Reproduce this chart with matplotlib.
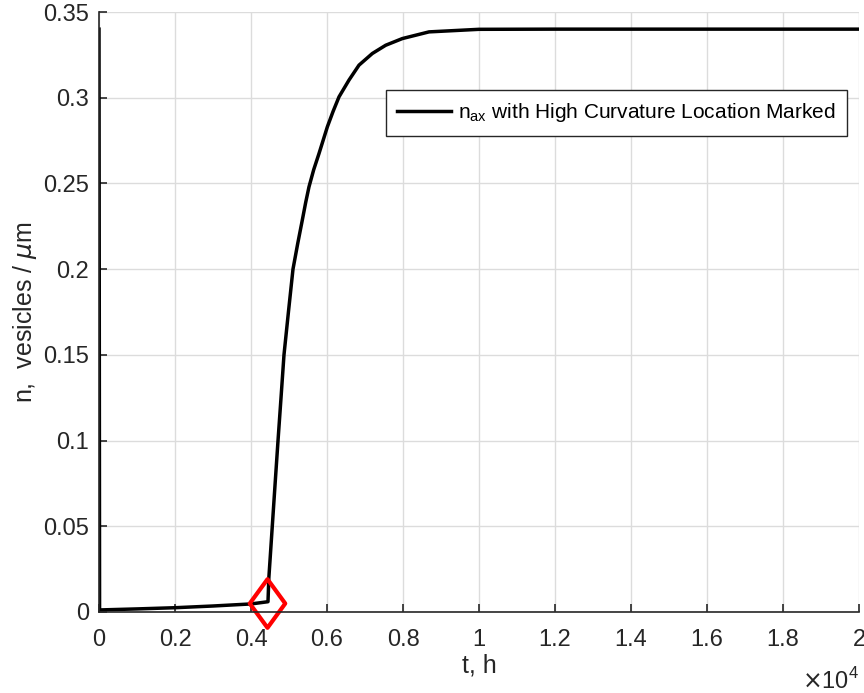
import numpy as np
from matplotlib import pyplot as plt
from matplotlib.path import Path

plt.rcParams['font.family'] = ['Liberation Sans', 'DejaVu Sans']

# n_ax curve
t = [0, 15, 1000, 2000, 3000, 4000, 4447, 4470, 4560, 4635, 4711, 4790, 4868, 4985,
     5105, 5230, 5350, 5440, 5526, 5650, 5789, 6009, 6160, 6316, 6579, 6842, 7193, 7544,
     7982, 8684, 10000, 12000, 20000]
n = [0.34, 0.0012, 0.0018, 0.0025, 0.0035, 0.0047, 0.006, 0.02, 0.05, 0.075, 0.10, 0.125,
     0.15, 0.175, 0.20, 0.215, 0.2286, 0.239, 0.248, 0.258, 0.2674, 0.283, 0.292, 0.3005,
     0.3103, 0.319, 0.3258, 0.3306, 0.3345, 0.3384, 0.3399, 0.34, 0.34]

# high curvature point
t_mark = [4410]
n_mark = [0.0054]

xticks = [0, 2000, 4000, 6000, 8000, 10000, 12000, 14000, 16000, 18000, 20000]
xticklabels = ['0', '0.2', '0.4', '0.6', '0.8', '1', '1.2', '1.4', '1.6', '1.8', '2']
yticks = [0, 0.05, 0.1, 0.15, 0.2, 0.25, 0.3, 0.35]
yticklabels = ['0', '0.05', '0.1', '0.15', '0.2', '0.25', '0.3', '0.35']

diamond = Path([(0, 1), (0.73, 0), (0, -1), (-0.73, 0), (0, 1)],
               [Path.MOVETO, Path.LINETO, Path.LINETO, Path.LINETO, Path.CLOSEPOLY])

fig = plt.figure(figsize=(8.64, 6.93), dpi=100)
ax = fig.add_axes([99 / 864, 81 / 693, 760 / 864, 600 / 693])

ax.plot(t, n, color='black', lw=2.5, solid_joinstyle='round',
        label=r'n$_{\mathregular{ax}}$ with High Curvature Location Marked')
ax.plot(t_mark, n_mark, linestyle='none', marker=diamond, markersize=35,
        markerfacecolor='none', markeredgecolor='red', markeredgewidth=3, clip_on=False)

ax.set_xlim(0, 20000)
ax.set_ylim(0, 0.35)
ax.set_xticks(xticks)
ax.set_xticklabels(xticklabels)
ax.set_yticks(yticks)
ax.set_yticklabels(yticklabels)
ax.grid(True, color='#dcdcdc', lw=1)
ax.set_axisbelow(True)
ax.spines['top'].set_visible(False)
ax.spines['right'].set_visible(False)
for s in ['left', 'bottom']:
    ax.spines[s].set_color('#262626')
    ax.spines[s].set_linewidth(1.2)
ax.tick_params(direction='in', length=6, width=1.2, colors='#262626', labelsize=17)
ax.tick_params(axis='x', pad=12)
ax.tick_params(axis='y', pad=7)

ax.set_xlabel('t, h', fontsize=18, color='#262626', labelpad=2)
ax.set_ylabel(r'n,  vesicles / $\mu$m', fontsize=18, color='#262626', labelpad=3)
ax.text(1.0, -0.093, r'$\times$10$^{\mathregular{4}}$', transform=ax.transAxes,
        ha='right', va='top', fontsize=17, color='#262626')

leg = ax.legend(loc='upper right', bbox_to_anchor=(0.984, 0.87), fontsize=15,
                frameon=True, fancybox=False, edgecolor='#262626', framealpha=1,
                handlelength=2.6, handletextpad=0.3, borderpad=0.55, borderaxespad=0)
leg.get_frame().set_linewidth(1)

plt.savefig('out.png', dpi=100)
